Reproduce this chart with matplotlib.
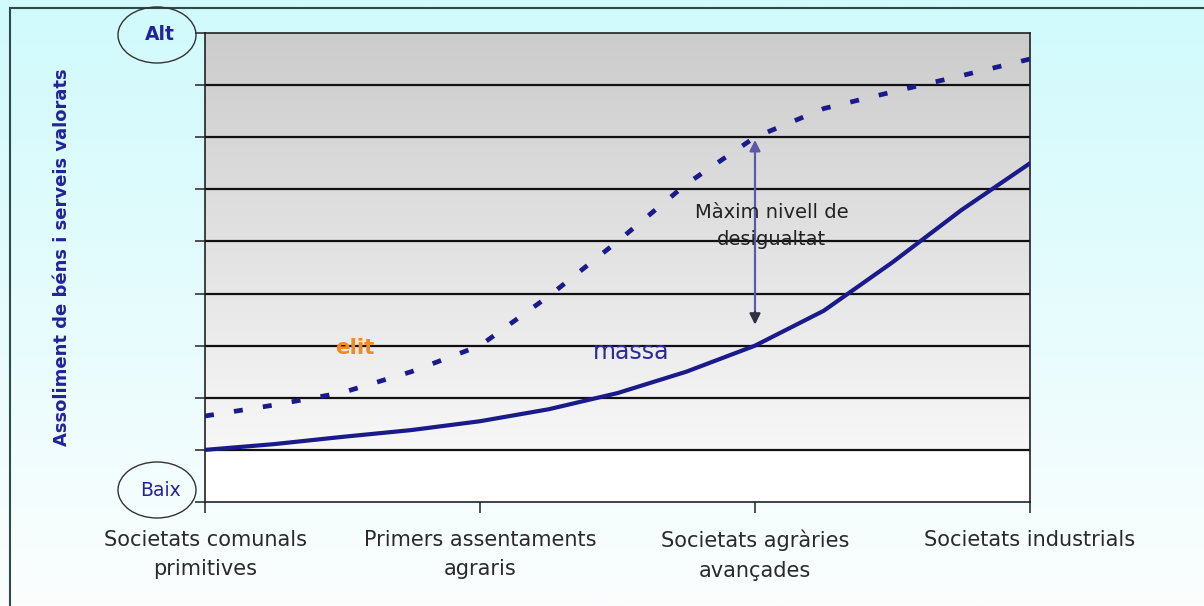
import numpy as np
import matplotlib.pyplot as plt
from matplotlib.patches import Ellipse, Rectangle

# etapes de l'eix x
etapes = ['Societats comunals\nprimitives', 'Primers assentaments\nagraris',
          'Societats agràries\navançades', 'Societats industrials']

# punts llegits de la gràfica (x en unitats d'etapa, y en nivells 0-9)
pos_x = [0, 0.25, 0.5, 0.75, 1.0, 1.25, 1.5, 1.75, 2.0, 2.25, 2.5, 2.75, 3.0]
elit = [1.65, 1.86, 2.1, 2.5, 3.0, 3.95, 5.0, 6.1, 7.0, 7.55, 7.87, 8.18, 8.5]
massa = [1.0, 1.11, 1.25, 1.38, 1.55, 1.78, 2.09, 2.5, 3.0, 3.67, 4.6, 5.6, 6.5]

nivells = list(range(0, 10))
blau = '#1a1a8a'

fig = plt.figure(figsize=(12.04, 6.06), dpi=100)

# fons de la figura: degradat cian -> blanc
bg = fig.add_axes([0, 0, 1, 1], zorder=-10)
grad = np.linspace(0, 1, 256).reshape(-1, 1)
top_c = np.array([208, 250, 252]) / 255
bot_c = np.array([252, 254, 254]) / 255
img = top_c[None, None, :] * (1 - grad[:, :, None]) + bot_c[None, None, :] * grad[:, :, None]
bg.imshow(img, aspect='auto', extent=[0, 1, 0, 1])
bg.set_axis_off()
fig.add_artist(Rectangle((10 / 1204, -0.1), 1.1, 1 - 8 / 606 + 0.1, transform=fig.transFigure,
                         fill=False, edgecolor='#2f4a4a', lw=1.5))

ax = fig.add_axes([205 / 1204, (606 - 502) / 606, 825 / 1204, 469 / 606])
ax.set_xlim(0, 3)
ax.set_ylim(0, 9)

# franges grises amb degradat
gris = 0.80 + 0.17 * np.linspace(0, 1, 256).reshape(-1, 1)
ax.imshow(np.dstack([gris, gris, gris]), aspect='auto', extent=[0, 3, 1, 9], zorder=0,
          origin='upper')
ax.add_patch(Rectangle((0, 0), 3, 1, facecolor='white', zorder=0))

for n in nivells[1:9]:
    ax.axhline(n, color='#111111', lw=1.6, zorder=1)

ax.plot(pos_x, massa, color=blau, lw=3, zorder=3, solid_joinstyle='round')
ax.plot(pos_x, elit, color=blau, lw=3.4, zorder=3, dashes=(1.9, 4.3))

# fletxa de desigualtat
ax.annotate('', xy=(2, 7.0), xytext=(2, 3.4),
            arrowprops=dict(arrowstyle='-|>', color='#5a5aa8', lw=1.6, mutation_scale=16),
            zorder=4)
ax.annotate('', xy=(2, 3.35), xytext=(2, 3.7),
            arrowprops=dict(arrowstyle='-|>', color='#303040', lw=1.6, mutation_scale=16),
            zorder=4)
ax.text(2.06, 5.3, 'Màxim nivell de\ndesigualtat', ha='center', va='center',
        fontsize=14, color='#222222', linespacing=1.5, zorder=5)

ax.text(0.545, 2.95, 'elit', ha='center', va='center', fontsize=15.5,
        color='#f08a24', fontweight='bold', zorder=5)
ax.text(1.55, 2.88, 'massa', ha='center', va='center', fontsize=17,
        color='#2a2a9a', zorder=5)

ax.set_yticks(nivells)
ax.set_yticklabels([])
ax.set_xticks(range(len(etapes)))
ax.set_xticklabels(etapes, fontsize=15, color='#2a2a2a', linespacing=1.6)
ax.tick_params(axis='y', direction='out', length=7, width=1.2, color='#333333')
ax.tick_params(axis='x', direction='out', length=8, width=1.2, color='#333333', pad=12)
for s in ax.spines.values():
    s.set_color('#222222')
    s.set_linewidth(1.2)

fig.text(62 / 1204, 1 - 257 / 606, 'Assoliment de béns i serveis valorats', rotation=90,
         ha='center', va='center', fontsize=13, color='#22229a', fontweight='bold')

for lab, cy, pes in [('Alt', 35, 'bold'), ('Baix', 490, 'normal')]:
    fig.add_artist(Ellipse((157 / 1204, 1 - cy / 606), 78 / 1204, 56 / 606,
                           transform=fig.transFigure, fill=False, edgecolor='#333333', lw=1))
    fig.text(160 / 1204, 1 - cy / 606, lab, ha='center', va='center', fontsize=13.5,
             color='#22229a', fontweight=pes)

fig.savefig('out.png', dpi=100)
